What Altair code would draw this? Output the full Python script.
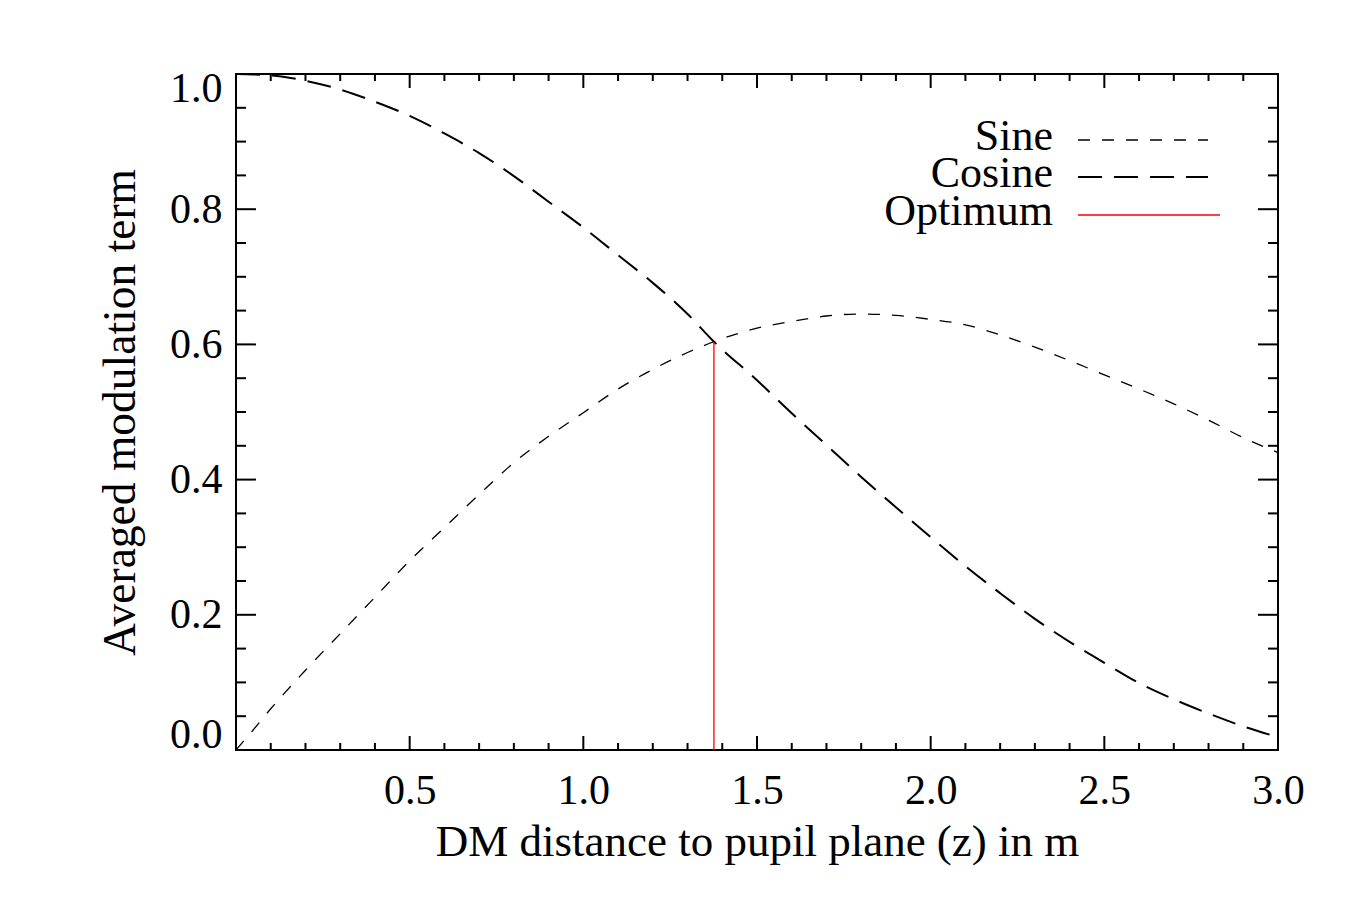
import altair as alt
import pandas as pd

# ---- data ----
x_sine = [0.0, 0.05, 0.1, 0.2, 0.3, 0.4, 0.5, 0.6, 0.7, 0.8, 0.9, 1.0, 1.1, 1.2, 1.3, 1.376,
          1.5, 1.6, 1.7, 1.8, 1.9, 2.0, 2.1, 2.2, 2.3, 2.4, 2.5, 2.6, 2.7, 2.8, 2.9, 3.0]
sine = [0.0, 0.03, 0.061, 0.118, 0.172, 0.226, 0.280, 0.329, 0.378, 0.425, 0.464, 0.499, 0.534,
        0.563, 0.588, 0.604, 0.624, 0.634, 0.642, 0.645, 0.643, 0.637, 0.629, 0.614, 0.596,
        0.576, 0.555, 0.534, 0.512, 0.488, 0.462, 0.440]

x_cos = [0.0, 0.1, 0.2, 0.3, 0.4, 0.5, 0.6, 0.7, 0.8, 0.9, 1.0, 1.1, 1.2, 1.3, 1.376,
         1.5, 1.6, 1.7, 1.8, 1.9, 2.0, 2.1, 2.2, 2.3, 2.4, 2.5, 2.6, 2.7, 2.8, 2.9, 3.0]
cosine = [1.0, 0.998, 0.990, 0.977, 0.959, 0.938, 0.912, 0.883, 0.849, 0.811, 0.773, 0.732,
          0.691, 0.645, 0.604, 0.547, 0.498, 0.451, 0.404, 0.359, 0.315, 0.272, 0.232, 0.194,
          0.160, 0.129, 0.099, 0.075, 0.054, 0.035, 0.019]

opt_x = [1.376]
opt_y = [0.604]

x_label_values = [0.5, 1.0, 1.5, 2.0, 2.5, 3.0]
y_label_values = [0.0, 0.2, 0.4, 0.6, 0.8, 1.0]
x_major_ticks = [0.5, 1.0, 1.5, 2.0, 2.5]
x_minor_ticks = [0.1, 0.2, 0.3, 0.4, 0.6, 0.7, 0.8, 0.9, 1.1, 1.2, 1.3, 1.4, 1.6, 1.7, 1.8, 1.9,
                 2.1, 2.2, 2.3, 2.4, 2.6, 2.7, 2.8, 2.9]
y_major_ticks = [0.2, 0.4, 0.6, 0.8]
y_minor_ticks = [0.05, 0.1, 0.15, 0.25, 0.3, 0.35, 0.45, 0.5, 0.55, 0.65, 0.7, 0.75, 0.85, 0.9, 0.95]
legend_names = ["Sine", "Cosine", "Optimum"]

# ---- layout / style ----
W, H = 1042, 676
FONT = "Liberation Serif"
xs = alt.Scale(domain=[0, 3], nice=False, zero=False)
ys = alt.Scale(domain=[0, 1], nice=False, zero=False)

sine_df = pd.DataFrame({"x": x_sine, "y": sine})
cos_df = pd.DataFrame({"x": x_cos, "y": cosine})
opt_df = pd.DataFrame({"x": opt_x, "y0": [0.0], "y": opt_y})

x_axis = alt.Axis(values=x_label_values, format=".1f", ticks=False, domain=False, grid=False,
                  labelFont=FONT, labelFontSize=42, labelColor="black", labelPadding=20,
                  labelFlush=False, title="DM distance to pupil plane (z) in m", titleFont=FONT,
                  titleFontSize=45, titleFontWeight="normal", titleColor="black", titlePadding=8)
y_axis = alt.Axis(values=y_label_values, format=".1f", ticks=False, domain=False, grid=False,
                  labelFont=FONT, labelFontSize=42, labelColor="black", labelPadding=14,
                  labelFlush=True, labelFlushOffset=6, title="Averaged modulation term", titleFont=FONT,
                  titleFontSize=45.5, titleFontWeight="normal", titleColor="black", titlePadding=25)

X = lambda f: alt.X(f, scale=xs, axis=x_axis)
Y = lambda f: alt.Y(f, scale=ys, axis=y_axis)

sine_line = alt.Chart(sine_df).mark_line(color="black", strokeWidth=1.3, strokeDash=[12, 12],
                                         clip=True, interpolate="monotone").encode(
    x=X("x:Q"), y=Y("y:Q"))
cos_line = alt.Chart(cos_df).mark_line(color="black", strokeWidth=2, strokeDash=[24, 12],
                                       clip=True, interpolate="monotone").encode(
    x=X("x:Q"), y=Y("y:Q"))
opt_rule = alt.Chart(opt_df).mark_rule(color="#ff0000", strokeWidth=1.3).encode(
    x=X("x:Q"), y=Y("y0:Q"), y2="y:Q")


def ticks(vals, side, length):
    df = pd.DataFrame({"v": vals})
    base = alt.Chart(df).mark_rule(color="black", strokeWidth=2)
    if side == "bottom":
        return base.encode(x=X("v:Q"), y=alt.value(H), y2=alt.value(H - length))
    if side == "top":
        return base.encode(x=X("v:Q"), y=alt.value(0), y2=alt.value(length))
    if side == "left":
        return base.encode(y=Y("v:Q"), x=alt.value(0), x2=alt.value(length))
    return base.encode(y=Y("v:Q"), x=alt.value(W), x2=alt.value(W - length))


tick_layers = [
    ticks(x_major_ticks, "bottom", 14), ticks(x_minor_ticks, "bottom", 7),
    ticks(x_major_ticks, "top", 14), ticks(x_minor_ticks, "top", 7),
    ticks(y_major_ticks, "left", 20), ticks(y_minor_ticks, "left", 10),
    ticks(y_major_ticks, "right", 20), ticks(y_minor_ticks, "right", 10),
]

# ---- legend (label left of sample line) ----
leg_rows = [63, 100, 138]
leg_dash = [[12, 12], [24, 12], None]
leg_width = [1.3, 2, 1.5]
leg_color = ["black", "black", "#ff0000"]
leg_end = [972, 972, 984]
legend_layers = []
for i, name in enumerate(legend_names):
    d = pd.DataFrame({"name": [name]})
    legend_layers.append(
        alt.Chart(d).mark_text(font=FONT, fontSize=44, align="right", baseline="middle", color="black").encode(
            text="name:N", x=alt.value(817), y=alt.value(leg_rows[i]))
    )
    kw = dict(color=leg_color[i], strokeWidth=leg_width[i])
    if leg_dash[i] is not None:
        kw["strokeDash"] = leg_dash[i]
    legend_layers.append(
        alt.Chart(d).mark_rule(**kw).encode(
            x=alt.value(842), x2=alt.value(leg_end[i]), y=alt.value(leg_rows[i] + 3))
    )

chart = alt.layer(sine_line, cos_line, opt_rule, *tick_layers, *legend_layers).properties(
    width=W, height=H,
    autosize=alt.AutoSizeParams(type="none"),
    padding={"left": 236, "top": 74, "right": 72, "bottom": 150},
    background="white",
).configure_view(stroke="black", strokeWidth=2)

chart.save("out.html", embed_options={"renderer": "svg", "actions": False})
